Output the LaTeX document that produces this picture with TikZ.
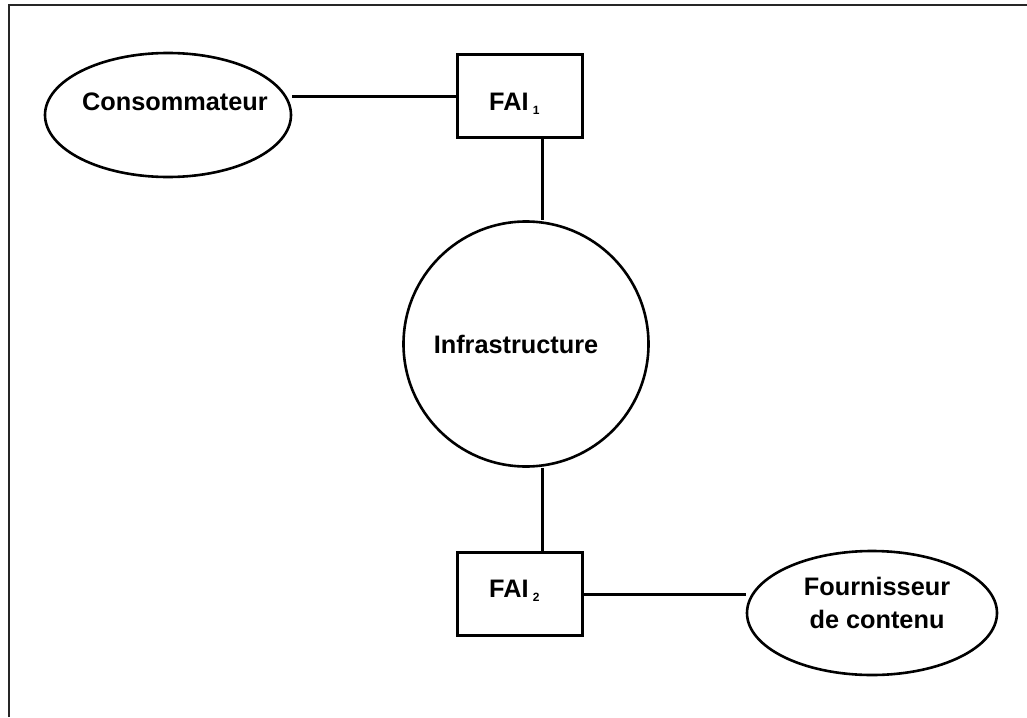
\documentclass[tikz,border=0pt]{standalone}
\usepackage{fontspec}
\setmainfont{Liberation Sans}
\usetikzlibrary{shapes.geometric}
\begin{document}
\begin{tikzpicture}[x=1pt,y=-1pt,
  lbl/.style={font=\fontsize{25.3}{33}\selectfont\bfseries, inner sep=0pt, align=center},
  oval/.style={draw, ellipse, line width=2.6pt, inner sep=0pt},
  faibox/.style={draw, rectangle, line width=3.8pt, inner sep=0pt, minimum width=125, minimum height=83},
  link/.style={line width=3pt}]
  \useasboundingbox (0,0) rectangle (1027,717);
  % open frame: top and left edges only
  \draw[line width=2.2pt, black!85] (9,717) -- (9,5) -- (1027,5);

  % consumer side
  \node[oval, minimum width=246, minimum height=124] (cons) at (168,115) {};
  \node[lbl] (consT) at (175,102) {Consommateur};
  \node[faibox] (fai1) at (520,96) {};
  \node[lbl, anchor=base west] (fai1T) at (489,110) {FAI\,\raisebox{-4pt}{\fontsize{12}{12}\selectfont 1}};

  % core
  \node[draw, circle, line width=2.6pt, minimum size=245, inner sep=0pt] (infra) at (526,344) {};
  \node[lbl, anchor=base] (infraT) at (516,353) {Infrastructure};

  % provider side
  \node[faibox] (fai2) at (520,594) {};
  \node[lbl, anchor=base west] (fai2T) at (489,597) {FAI\,\raisebox{-4pt}{\fontsize{12}{12}\selectfont 2}};
  \node[oval, minimum width=250, minimum height=124] (fourn) at (872,613) {};
  \node[lbl] (fournT) at (877,603) {Fournisseur\\de contenu};

  % links
  \coordinate (axis) at (542,0);
  \draw[link] (cons.east |- fai1.west) -- (fai1.west);
  \draw[link] (fai1.south -| axis) -- (infra.north -| axis);
  \draw[link] (infra.south -| axis) -- (fai2.north -| axis);
  \draw[link] (fai2.east) -- (fourn.west |- fai2.east);
\end{tikzpicture}
\end{document}
